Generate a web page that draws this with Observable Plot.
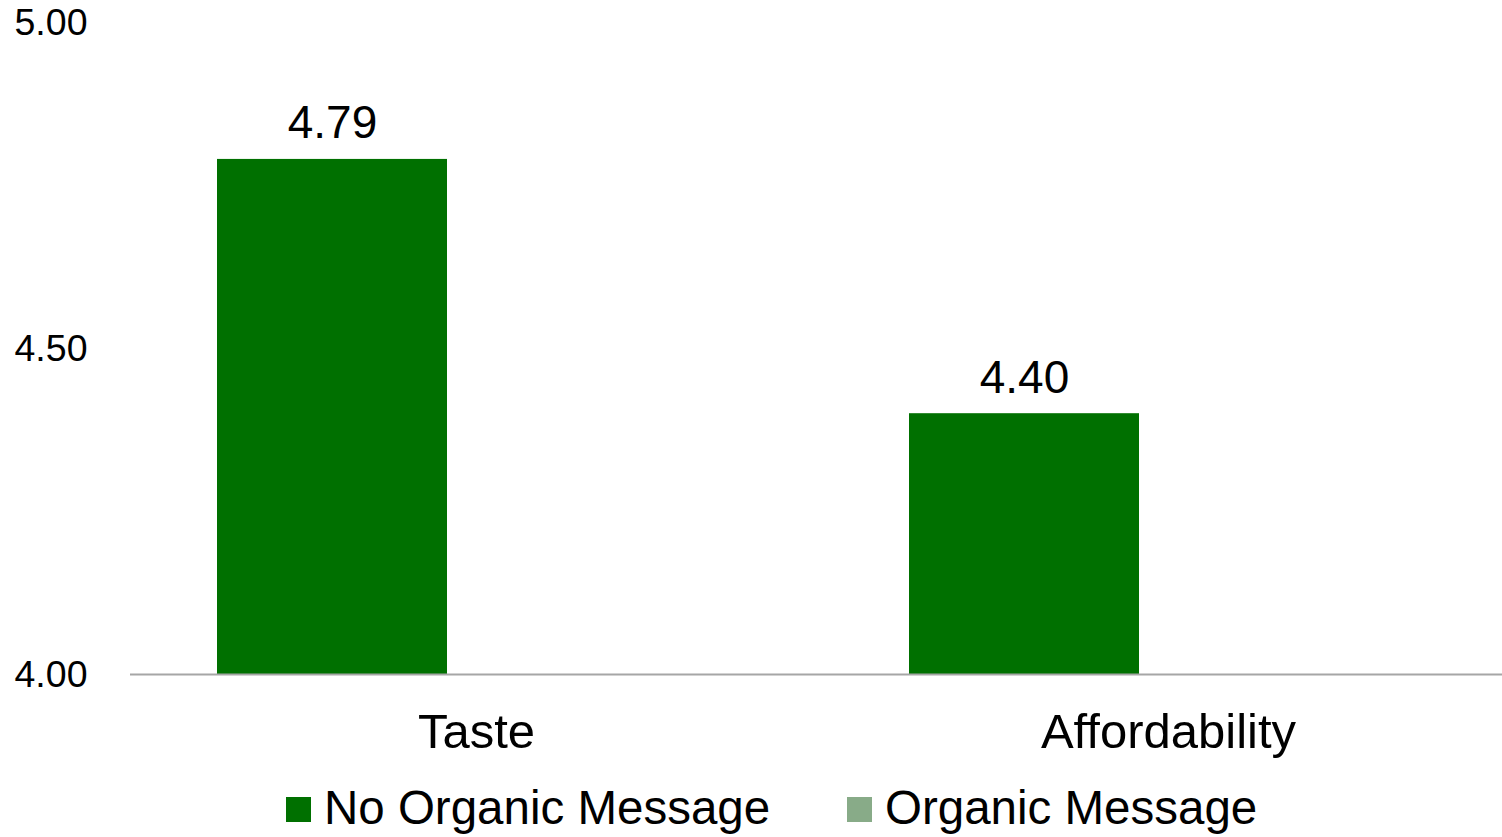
<!DOCTYPE html>
<html>
<head>
<meta charset="utf-8">
<script src="https://cdn.jsdelivr.net/npm/d3@7"></script>
<script src="https://cdn.jsdelivr.net/npm/@observablehq/plot@0.6"></script>
<style>
  html, body { margin: 0; padding: 0; background: #fff; }
  body { font-family: "Liberation Sans", Arial, sans-serif; }
  #chart svg { display: block; }
  #legend { position: relative; width: 1502px; height: 62px; }
  #legend .sw { position: absolute; top: 22px; width: 25px; height: 25px; }
  #legend .lb { position: absolute; top: 9px; font-size: 47.5px; line-height: 47.5px; color: #000; white-space: nowrap; }
</style>
</head>
<body>
<div id="chart"></div>
<div id="legend"></div>
<script>
// Data
const categories = ["Taste", "Affordability"];
const series = ["No Organic Message", "Organic Message"];
const noOrganicMessage = [4.79, 4.40];
const organicMessage = [null, null]; // not drawn in the reference (no visible bars)
const seriesColors = ["#007000", "#88ab88"];
const yTicks = [4.0, 4.5, 5.0];

const rows = [];
categories.forEach((c, i) => {
  rows.push({category: c, series: series[0], value: noOrganicMessage[i]});
  rows.push({category: c, series: series[1], value: organicMessage[i]});
});
const drawn = rows.filter(d => d.value != null);

const chart = Plot.plot({
  width: 1502,
  height: 775,
  marginLeft: 130,
  marginRight: 0,
  marginTop: 22,
  marginBottom: 101,
  style: {fontFamily: "'Liberation Sans', Arial, sans-serif", background: "#fff", color: "#000"},
  fx: {domain: categories, range: [130, 1514], padding: 0, label: null, axis: null},
  x: {domain: series, paddingInner: 0, paddingOuter: 0.504, align: 0.375, axis: null},
  y: {domain: [4, 5], ticks: yTicks, tickFormat: d3.format(".2f"), label: null, axis: null},
  color: {domain: series, range: seriesColors},
  marks: [
    Plot.axisY({ticks: yTicks, tickFormat: d3.format(".2f"), tickSize: 0, tickPadding: 43, fontSize: 37.5, label: null}),
    Plot.axisFx({anchor: "bottom", tickSize: 0, tickPadding: 39, fontSize: 49, label: null}),
    Plot.barY(drawn, {fx: "category", x: "series", y1: 4, y2: "value", fill: "series"}),
    Plot.ruleY([4], {stroke: "#a6a6a6", strokeWidth: 2}),
    Plot.text(drawn, {fx: "category", x: "series", y: "value", text: d => d3.format(".2f")(d.value),
      lineAnchor: "bottom", dy: -21, fontSize: 46, fill: "#000"})
  ]
});
document.getElementById("chart").appendChild(chart);

// Legend below the chart
const legend = document.getElementById("legend");
const swatchLeft = [286, 847];
series.forEach((s, i) => {
  const sw = document.createElement("div");
  sw.className = "sw";
  sw.style.left = swatchLeft[i] + "px";
  sw.style.background = seriesColors[i];
  legend.appendChild(sw);
  const lb = document.createElement("div");
  lb.className = "lb";
  lb.style.left = (swatchLeft[i] + 38) + "px";
  lb.textContent = s;
  legend.appendChild(lb);
});
</script>
</body>
</html>
